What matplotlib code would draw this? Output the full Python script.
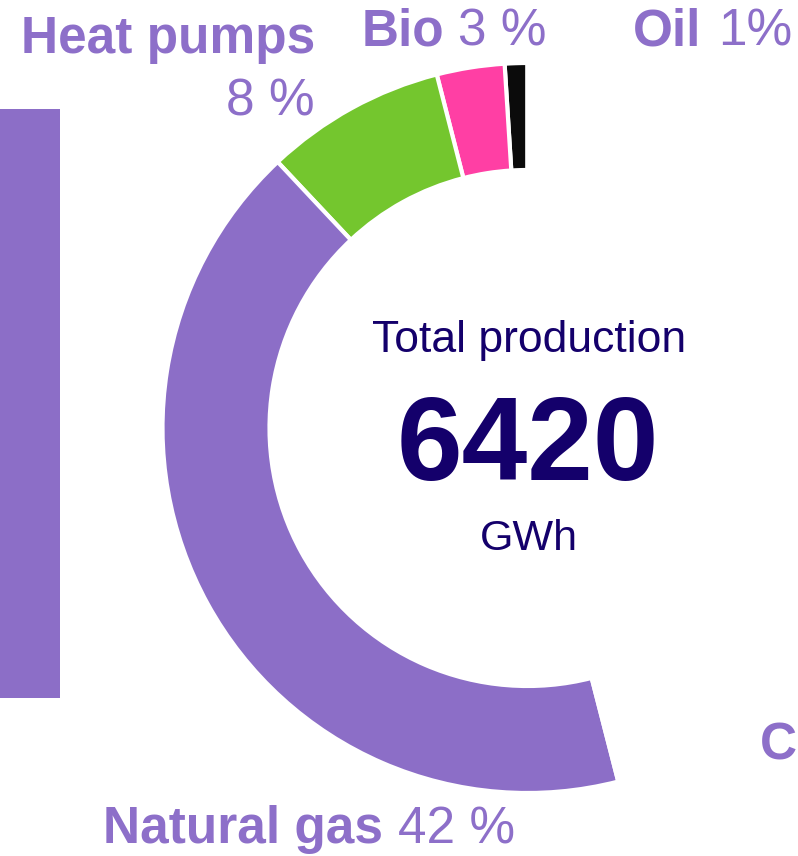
import matplotlib.pyplot as plt

plt.rcParams['font.family'] = ['Liberation Sans', 'DejaVu Sans']

# shares of total production, counter-clockwise from 12 o'clock
sources = ['Oil', 'Bio', 'Heat pumps', 'Natural gas', 'Coal']
shares = [1, 3, 8, 42, 46]
colors = ['#0b0b0b', '#ff3fa4', '#74c62e', '#8c6ec7', 'white']
total_gwh = 6420

label_col = '#8d6fc9'
navy = '#14006b'

W, H = 798, 856
fig = plt.figure(figsize=(W / 100, H / 100), dpi=100)
ax = fig.add_axes([0, 0, 1, 1])

ax.pie(shares, colors=colors, radius=365, center=(527.5, 428), startangle=90,
       counterclock=True,
       wedgeprops=dict(width=107, edgecolor='white', linewidth=3))

# edge of the neighbouring chart on the left
ax.add_patch(plt.Rectangle((0, 158), 60, 589, color='#8c6ec7', lw=0))

ax.set_xlim(0, W)
ax.set_ylim(0, H)
ax.set_aspect('equal')
ax.axis('off')

# centre text
ax.text(529, 504, 'Total production', ha='center', va='baseline',
        fontsize=32, color=navy)
ax.text(528, 376, str(total_gwh), ha='center', va='baseline',
        fontsize=85, fontweight='bold', color=navy)
ax.text(529, 306, 'GWh', ha='center', va='baseline', fontsize=31, color=navy)

# labels
fs = 37
ax.text(315, 803, 'Heat pumps', ha='right', va='baseline', fontsize=fs,
        fontweight='bold', color=label_col)
ax.text(315, 741, f'{shares[2]} %', ha='right', va='baseline', fontsize=fs,
        color=label_col)

ax.text(362, 811, 'Bio', ha='left', va='baseline', fontsize=fs,
        fontweight='bold', color=label_col)
ax.text(458, 811, f'{shares[1]} %', ha='left', va='baseline', fontsize=fs,
        color=label_col)

ax.text(633, 811, 'Oil', ha='left', va='baseline', fontsize=fs,
        fontweight='bold', color=label_col)
ax.text(718, 811, f'{shares[0]}%', ha='left', va='baseline', fontsize=fs,
        color=label_col)

ax.text(103, 13, 'Natural gas', ha='left', va='baseline', fontsize=fs,
        fontweight='bold', color=label_col)
ax.text(398, 13, f'{shares[3]} %', ha='left', va='baseline', fontsize=fs,
        color=label_col)

ax.text(760, 96, 'C', ha='left', va='baseline', fontsize=fs,
        fontweight='bold', color=label_col)

fig.savefig('out.png', dpi=100)
